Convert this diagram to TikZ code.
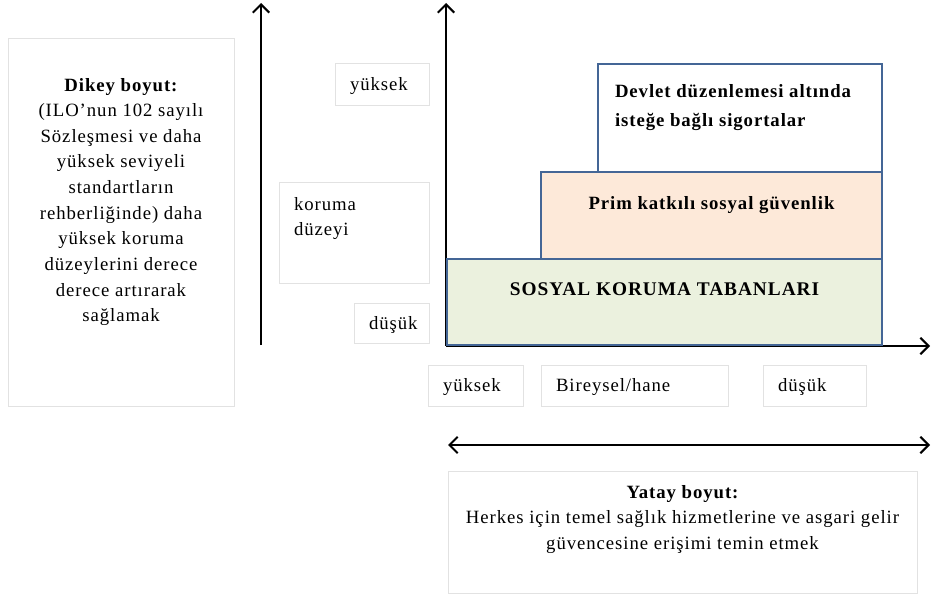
\documentclass[tikz,border=0pt]{standalone}
\usepackage{fontspec}
\setmainfont{Liberation Serif}[LetterSpace=5]
\usetikzlibrary{arrows.meta, positioning}

\definecolor{boxblue}{RGB}{68,102,150}
\definecolor{floorgreen}{RGB}{235,241,222}
\definecolor{primpeach}{RGB}{253,233,217}
\definecolor{faintgray}{RGB}{226,226,226}
\newcommand\bodytext{\fontsize{16}{21.9}\selectfont}
\newcommand\steptext{\fontsize{16}{25.6}\selectfont\bfseries}

\begin{document}
\begin{tikzpicture}[x=0.03cm, y=-0.03cm, >={Straight Barb[length=7pt,width=14pt]},
  every node/.style={inner sep=0, outer sep=0, font=\bodytext},
  every label/.style={inner sep=0, font=\bodytext},
  boxsize/.style 2 args={minimum width=#1*0.03cm, minimum height=#2*0.03cm},
  faintbox/.style={draw=faintgray, line width=0.8pt, anchor=north west},
  tagbox/.style 2 args={faintbox, boxsize={#1}{#2}, text width=(#1-30)*0.03cm, inner xsep=0.45cm, align=left, text height=1.15em, text depth=0.1em},
  levelbox/.style={draw=boxblue, line width=2pt, anchor=north west},
  axis/.style={line width=1.8pt}]
\useasboundingbox (0,0) rectangle (931,596);

% axes
\coordinate (v1low) at (261,345);
\coordinate (v1high) at (261,3);
\coordinate (origin) at (446,346);
\coordinate (v2high) at (446,3);
\coordinate (hend) at (930,346);
\coordinate (hleft) at (448,445);
\coordinate (hright) at (930,445);
\draw[axis,->] (v1low) -- (v1high);
\draw[axis,->] (origin) -- (v2high);
\draw[axis,->] (origin) -- (hend);
\draw[axis,<->] (hleft) -- (hright);

% vertical dimension
\node[faintbox, boxsize={226}{368}, label={[anchor=north, yshift=-1.2cm, align=center]north:{\bfseries Dikey boyut:}\\(ILO’nun 102 sayılı\\Sözleşmesi ve daha\\yüksek seviyeli\\standartların\\rehberliğinde) daha\\yüksek koruma\\düzeylerini derece\\derece artırarak\\sağlamak}] (vdim) at (8,38) {};
\node[tagbox={94}{42}] (highv) at (335,63) {yüksek};
\node[faintbox, boxsize={150}{101}, label={[anchor=north west, xshift=0.45cm, yshift=-0.45cm, align=left]north west:koruma\\düzeyi}] (level) at (279,182) {};
\node[tagbox={75}{40}] (lowv) at (354,303) {düşük};

% protection steps
\node[levelbox, fill=floorgreen, boxsize={435}{86}, label={[anchor=center, yshift=-0.9cm, font=\steptext\fontsize{16.5}{20}\selectfont]north:SOSYAL KORUMA TABANLARI}] (floor) at (447,259) {};
\node[levelbox, fill=primpeach, boxsize={341}{87}, label={[anchor=center, yshift=-1.0cm, font=\steptext]north:Prim katkılı sosyal güvenlik}] (prim) at (541,172) {};
\node[levelbox, fill=white, boxsize={284}{108}, label={[anchor=north west, xshift=0.51cm, yshift=-0.6cm, align=left, font=\steptext]north west:Devlet düzenlemesi altında\\isteğe bağlı sigortalar}] (state) at (598,64) {};

% horizontal dimension
\node[tagbox={95}{41}] (highh) at (428,365) {yüksek};
\node[tagbox={187}{41}] (unit) at (541,365) {Bireysel/hane};
\node[tagbox={103}{41}] (lowh) at (763,365) {düşük};
\node[faintbox, boxsize={469}{122}, label={[anchor=north, yshift=-0.42cm, align=center]north:{\bfseries Yatay boyut:}\\Herkes için temel sağlık hizmetlerine ve asgari gelir\\güvencesine erişimi temin etmek}] (hdim) at (448,471) {};
\end{tikzpicture}
\end{document}
